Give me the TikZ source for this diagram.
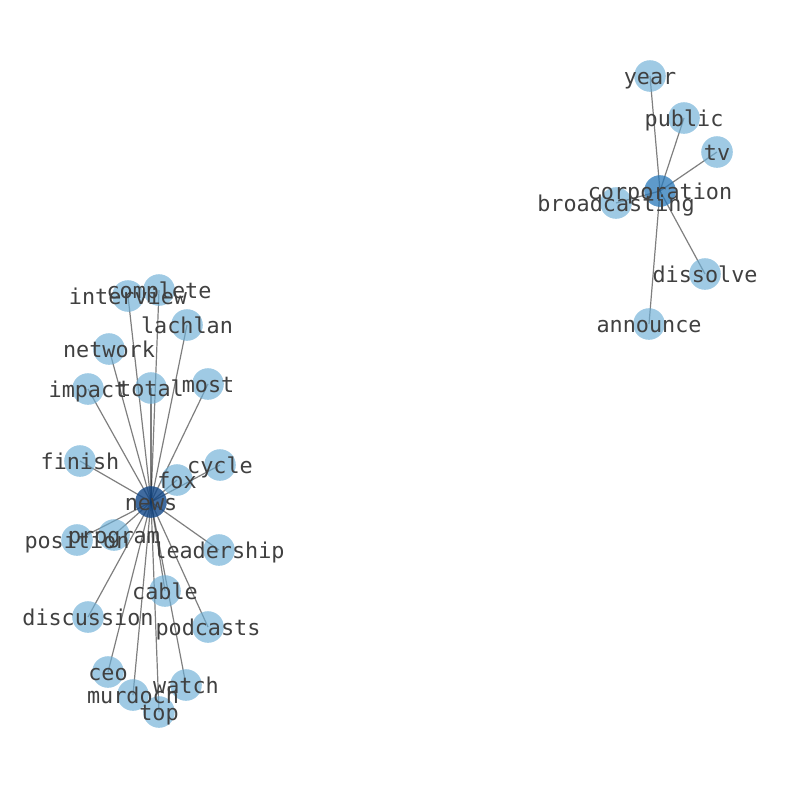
\documentclass[tikz,border=0pt]{standalone}
\usepackage{fontspec}
\newfontfamily\dvmono{DejaVu Sans Mono}
\usetikzlibrary{backgrounds}
\definecolor{lightnode}{RGB}{107,174,214}
\definecolor{darknode}{RGB}{16,70,135}
\definecolor{midnode}{RGB}{40,120,185}
\definecolor{txtcol}{RGB}{64,64,64}
\begin{document}
\begin{tikzpicture}[x=1pt,y=-1pt,
  lbl/.style={font=\dvmono\fontsize{21.8}{24}\selectfont, text=txtcol, inner sep=0pt, text height=16.6pt, text depth=5.2pt, yshift=-2.5pt},
  base/.style={circle, minimum size=31.6pt, inner sep=0pt},
  lt/.style={base, fill=lightnode, fill opacity=0.65, text opacity=1},
  dk/.style={base, fill=darknode, fill opacity=0.8, text opacity=1},
  md/.style={base, fill=midnode, fill opacity=0.75, text opacity=1},
  edge/.style={draw=black, draw opacity=0.5, line width=1.2pt}]
\useasboundingbox (0,0) rectangle (794,790);
% left component
\node[dk] (news) at (151,502) {};
\node[lt] (complete) at (159,290) {};
\node[lt] (interview) at (128,296) {};
\node[lt] (lachlan) at (187,325) {};
\node[lt] (network) at (109,349) {};
\node[lt] (total) at (151,388) {};
\node[lt] (most) at (208,384) {};
\node[lt] (impact) at (88,389) {};
\node[lt] (finish) at (80,461) {};
\node[lt] (cycle) at (220,465) {};
\node[lt] (fox) at (177,480) {};
\node[lt] (program) at (114,535) {};
\node[lt] (position) at (77,540) {};
\node[lt] (leadership) at (219,550) {};
\node[lt] (cable) at (165,591) {};
\node[lt] (discussion) at (88,617) {};
\node[lt] (podcasts) at (208,627) {};
\node[lt] (ceo) at (108,672) {};
\node[lt] (watch) at (186,685) {};
\node[lt] (murdoch) at (133,695) {};
\node[lt] (top) at (159,712) {};
% right component
\node[md] (corporation) at (660,191) {};
\node[lt] (year) at (650,76) {};
\node[lt] (public) at (684,118) {};
\node[lt] (tv) at (717,152) {};
\node[lt] (broadcasting) at (616,203) {};
\node[lt] (dissolve) at (705,274) {};
\node[lt] (announce) at (649,324) {};
\begin{pgfonlayer}{background}
\foreach \n in {complete,interview,lachlan,network,total,most,impact,finish,cycle,fox,program,position,leadership,cable,discussion,podcasts,ceo,watch,murdoch,top}
  \draw[edge] (news.center) -- (\n.center);
\foreach \n in {year,public,tv,broadcasting,dissolve,announce}
  \draw[edge] (corporation.center) -- (\n.center);
\end{pgfonlayer}
% labels
\foreach \n in {news,complete,interview,lachlan,network,total,most,impact,finish,cycle,fox,program,position,leadership,cable,discussion,podcasts,ceo,watch,murdoch,top,corporation,year,public,tv,broadcasting,dissolve,announce}
  \node[lbl] at (\n.center) {\n};
\end{tikzpicture}
\end{document}
